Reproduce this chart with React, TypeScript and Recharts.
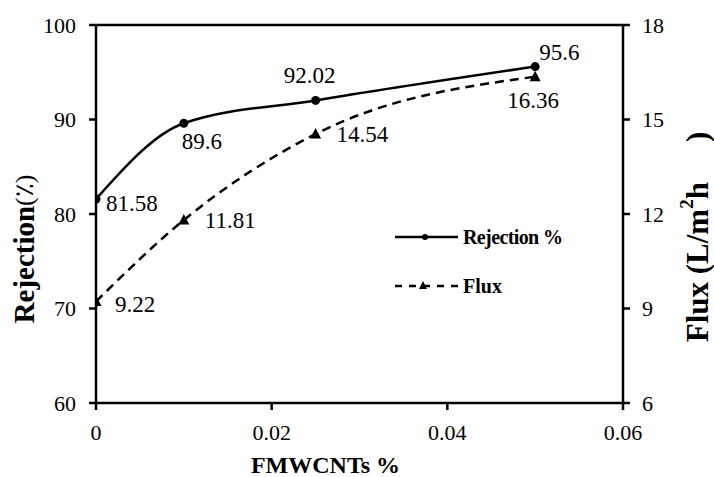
import React from "react";
import {
  LineChart,
  Line,
  XAxis,
  YAxis,
  ReferenceLine,
  LabelList,
  Label,
} from "recharts";

const xValues = [0, 0.01, 0.025, 0.05];
const rejection = [81.58, 89.6, 92.02, 95.6];
const flux = [9.22, 11.81, 14.54, 16.36];
const xTicks = [0, 0.02, 0.04, 0.06];
const leftTicks = [60, 70, 80, 90, 100];
const rightTicks = [6, 9, 12, 15, 18];
const seriesNames = ["Rejection %", "Flux"];

const data = xValues.map((x, i) => ({ x, rejection: rejection[i], flux: flux[i] }));

const FONT = "Liberation Serif";
const AX = { stroke: "#000", strokeWidth: 2.5 };
const TICK = { fontFamily: FONT, fontSize: 22, fill: "#000", style: { fontFamily: FONT } };

// label placement styles (anchor, dx, center dy)
const rejLabelPos = [
  ["start", 10, 4],
  ["start", -2, 18],
  ["middle", -6, -25],
  ["start", 4, -14],
];
const fluxLabelPos = [
  ["start", 19, 3],
  ["start", 21, 1],
  ["start", 21, 1],
  ["middle", -2, 24],
];

const makeLabel = (pos: any[], values: number[]) => (props: any) => {
  const { x, y, index } = props;
  const [anchor, dx, dy] = pos[index];
  return (
    <text
      x={x + dx}
      y={y + dy}
      textAnchor={anchor}
      dominantBaseline="central"
      fontFamily={FONT}
      style={{ fontFamily: FONT }}
      fontSize={23}
      fill="#000"
    >
      {String(values[index])}
    </text>
  );
};

const Triangle = (props: any) => {
  const { cx, cy } = props;
  if (cx == null || cy == null) return null;
  return <path d={`M${cx},${cy - 6} L${cx + 5.5},${cy + 4.5} L${cx - 5.5},${cy + 4.5} Z`} fill="#000" />;
};

const LegendOverlay = () => (
  <svg width={200} height={90} style={{ position: "absolute", left: 390, top: 220 }}>
    <line x1={5} y1={17} x2={68} y2={17} stroke="#000" strokeWidth={2.5} />
    <circle cx={35} cy={17} r={3} fill="#000" />
    <text x={73} y={17} dominantBaseline="central" fontFamily={FONT} style={{ fontFamily: FONT }} fontWeight="bold" fontSize={20} textLength={100} fill="#000">
      {seriesNames[0]}
    </text>
    <line x1={5} y1={66} x2={68} y2={66} stroke="#000" strokeWidth={2.5} strokeDasharray="7 7" />
    <path d="M33,61 L37,69 L29,69 Z" fill="#000" />
    <text x={73} y={66} dominantBaseline="central" fontFamily={FONT} style={{ fontFamily: FONT }} fontWeight="bold" fontSize={20} fill="#000">
      {seriesNames[1]}
    </text>
  </svg>
);

export default function App() {
  return (
    <div style={{ position: "absolute", left: 0, top: 0, width: 714, height: 477, background: "#fff", fontFamily: FONT }}>
      <LineChart width={714} height={477} data={data} margin={{ top: 25, right: 0, bottom: 0, left: 0 }} style={{ fontFamily: FONT }}>
        <XAxis
          type="number"
          dataKey="x"
          domain={[0, 0.06]}
          ticks={xTicks}
          tickFormatter={(v: number) => String(v)}
          axisLine={AX}
          tickLine={AX}
          tickSize={7}
          tickMargin={14}
          tick={TICK}
          height={74}
          allowDataOverflow
        >
          <Label
            content={(p: any) => {
              const vb = p.viewBox || { x: 96, y: 403, width: 527 };
              return (
                <text
                  x={vb.x + vb.width / 2 - 34}
                  y={vb.y + 62}
                  textAnchor="middle"
                  dominantBaseline="central"
                  fontFamily={FONT}
                  style={{ fontFamily: FONT }}
                  fontWeight="bold"
                  fontSize={24}
                  fill="#000"
                >
                  FMWCNTs %
                </text>
              );
            }}
          />
        </XAxis>
        <YAxis
          yAxisId="left"
          domain={[60, 100]}
          ticks={leftTicks}
          axisLine={AX}
          tickLine={AX}
          tickSize={7}
          tickMargin={13}
          tick={TICK}
          width={96}
          allowDataOverflow
        >
          <Label
            content={(p: any) => {
              const vb = p.viewBox || { x: 0, y: 25, width: 96, height: 378 };
              const cx = vb.x + 24;
              const cy = vb.y + vb.height / 2 + 35;
              return (
                <text
                  x={cx}
                  y={cy}
                  transform={`rotate(-90 ${cx} ${cy})`}
                  textAnchor="middle"
                  dominantBaseline="central"
                  fontFamily={FONT}
                  style={{ fontFamily: FONT }}
                  fontWeight="bold"
                  fontSize={29}
                  fill="#000"
                >
                  Rejection<tspan fontWeight="normal" fontSize={26}>(٪)</tspan>
                </text>
              );
            }}
          />
        </YAxis>
        <YAxis
          yAxisId="right"
          orientation="right"
          domain={[6, 18]}
          ticks={rightTicks}
          axisLine={AX}
          tickLine={AX}
          tickSize={7}
          tickMargin={12}
          tick={TICK}
          width={91}
          allowDataOverflow
        >
          <Label
            content={(p: any) => {
              const vb = p.viewBox || { x: 623, y: 25, width: 91, height: 378 };
              const cx = vb.x + 74;
              const cy = vb.y + vb.height / 2 + 23;
              return (
                <text
                  x={cx}
                  y={cy}
                  transform={`rotate(-90 ${cx} ${cy})`}
                  textAnchor="middle"
                  dominantBaseline="central"
                  fontFamily={FONT}
                  style={{ fontFamily: FONT }}
                  fontWeight="bold"
                  fontSize={31}
                  fill="#000"
                >
                  Flux (L/m<tspan fontSize={19} dy={-11}>2</tspan>
                  <tspan dy={11}>h</tspan>
                  <tspan dx={40}>)</tspan>
                </text>
              );
            }}
          />
        </YAxis>
        <ReferenceLine yAxisId="left" y={100} stroke="#000" strokeWidth={2.5} />
        <Line
          yAxisId="left"
          type="monotone"
          dataKey="rejection"
          stroke="#000"
          strokeWidth={2.5}
          dot={{ r: 4.5, fill: "#000", stroke: "none" }}
          isAnimationActive={false}
        >
          <LabelList dataKey="rejection" content={makeLabel(rejLabelPos, rejection)} />
        </Line>
        <Line
          yAxisId="right"
          type="monotone"
          dataKey="flux"
          stroke="#000"
          strokeWidth={2.5}
          strokeDasharray="9 6"
          dot={<Triangle />}
          isAnimationActive={false}
        >
          <LabelList dataKey="flux" content={makeLabel(fluxLabelPos, flux)} />
        </Line>
      </LineChart>
      <LegendOverlay />
    </div>
  );
}
